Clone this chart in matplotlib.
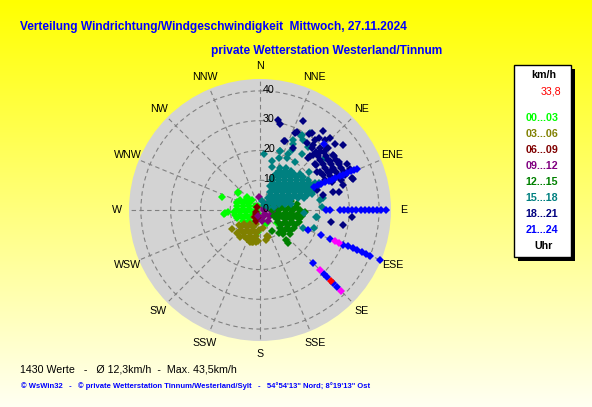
import numpy as np
import matplotlib
matplotlib.use('Agg')
import matplotlib.pyplot as plt
from matplotlib.patches import Rectangle
from matplotlib.colors import LinearSegmentedColormap

plt.rcParams['font.family'] = ['Liberation Sans', 'DejaVu Sans']

# ---------------- data ----------------
compass = ['N', 'NNE', 'NE', 'ENE', 'E', 'ESE', 'SE', 'SSE',
           'S', 'SSW', 'SW', 'WSW', 'W', 'WNW', 'NW', 'NNW']
ring_values = [0, 10, 20, 30, 40]
hour_labels = ['00...03', '03...06', '06...09', '09...12',
               '12...15', '15...18', '18...21', '21...24']
hour_colors = ['#00FF00', '#808000', '#800000', '#800080',
               '#008000', '#008080', '#000080', '#0000FF']

# 00-03
dir_00 = [296.6, 305.5, 321.3, 279.9, 283.2, 290, 308.7, 265.6, 264.3, 261.9, 256, 250.8, 244.8, 234, 212, 225, 209.7,
          289, 308.6, 313.7, 265.6, 267, 289.6, 300, 153, 184.5, 258.7, 263.6, 128.5, 310, 311, 159, 270, 240, 200, 330,
          292.4, 302.5, 286.9, 272.5, 273.4, 275.2, 256, 250.3, 238, 237.1, 225]
spd_00 = [7.5, 5.8, 4.3, 7.8, 5.9, 3.9, 2.1, 8.8, 6.7, 4.7, 2.8, 8.2, 6.3, 4.6, 3.2, 6.6, 5.4,
          13.6, 9.3, 6.2, 11.8, 10.9, 8.3, 4.5, 5.0, 7.3, 8.6, 12.1, 7.2, 9.5, 5.9, 4.8, 1.5, 2.0, 1.5, 1.5,
          6.2, 4.4, 8.1, 7.7, 5.7, 3.7, 6.9, 5.0, 3.2, 6.8, 5.2]
# 03-06
dir_03 = [228.8, 215.5, 196, 223.5, 213, 199.3, 183, 211.6, 201, 188.7, 197.4, 187,
          235.7, 216.9, 191.9, 183, 169, 163, 235, 225, 165.5, 169.8, 194.7, 220, 200,
          217.4, 202.4, 228.2, 203.5, 189.9, 214.8, 204.1, 193.6]
spd_03 = [7.1, 5.8, 4.9, 9.3, 8.0, 7.1, 6.7, 10.2, 9.4, 8.8, 11.2, 10.8,
          11.5, 11.2, 10.9, 10.3, 10.2, 9.6, 8.8, 11.1, 9.0, 6.2, 11.0, 3.0, 2.5,
          7.2, 6.2, 8.6, 8.4, 7.8, 9.4, 10.7, 10.0]
# 06-09
dir_06 = [243, 215, 200, 190, 315, 225]
spd_06 = [1.5, 2.9, 3.9, 2.5, 1.2, 2.0]
# 09-12
dir_09 = [39.8, 61.4, 90, 90, 90, 198.4, 146.3, 121, 110.6, 169.7, 144, 357, 75, 100, 130, 60, 102.5, 80]
spd_09 = [2.6, 4.2, 1.3, 3.4, 5.4, 2.1, 2.4, 3.9, 5.7, 3.8, 4.6, 4.5, 4.8, 4.5, 2.0, 1.5, 6.2, 5.8]
# 12-15
dir_12 = [59, 66, 69.4, 75.4, 78.7, 80.8, 90, 90, 90, 90, 90, 113.2, 105.9, 102.1, 99.7, 98.1,
          123.7, 115.6, 110.6, 107.1, 132, 123.7, 117.9, 136.2, 128.7, 139.1,
          140.4, 92, 73, 150.5, 139.6,
          82.4, 84.2, 85.3, 99.7, 97, 95.4, 94.5, 117.2, 110.2, 105.9, 103.2,
          124.9, 117.8, 112.9, 131.8, 124.5, 69, 73.6]
spd_12 = [7.8, 9.9, 5.7, 8.0, 10.3, 12.6, 4.0, 6.4, 8.7, 11.1, 13.4, 5.1, 7.3, 9.6, 11.9, 14.2,
          7.3, 9.3, 11.5, 13.7, 9.0, 10.9, 12.9, 11.1, 12.9, 13.3,
          10.2, 15.1, 3.5, 8.0, 14.7,
          7.6, 10.0, 12.3, 6.0, 8.3, 10.6, 13.0, 6.6, 8.8, 11.0, 13.3,
          8.8, 10.8, 12.9, 10.6, 12.4, 8.4, 10.7]
# 15-18
dir_15 = [25.5, 31.8, 24, 31.4, 37.9, 43.4, 48, 21.8, 31, 38.7, 45, 50.2, 54.5, 58,
          22.6, 33.7, 42.5, 49.4, 54.8, 59, 62.4, 65.2, 67.5,
          29, 41.6, 50.7, 57.3, 62.1, 65.8, 68.6, 70.9,
          33.7, 49.4, 59, 65.2, 69.4, 72.5, 74.7, 49.4, 65.2, 72.5, 76.5, 79,
          4.4, 18.7, 15.1, 27.8, 26.9, 28.9, 31.4, 27.3, 36.8, 37.3, 25.4, 51.2, 80.5, 97.3,
          112.9, 108.6, 72.8, 93.5, 97.4, 87, 18.6, 29.1, 33.1, 26.9, 35.9, 52.2, 79.5, 65.8,
          15, 40, 14, 20,
          26, 32.7, 38.5, 21.5, 29.9, 37.1, 43.2, 48.3, 52.5,
          25.7, 35.1, 42.8, 48.9, 53.9, 57.9, 61.1, 63.9,
          31.8, 42.1, 50, 55.9, 60.4, 64, 66.8,
          36.3, 48.6, 56.9, 62.6, 66.8, 69.9, 72.3,
          48, 60.6, 67.8, 72.2, 69.4, 77.9]
spd_15 = [15.6, 16.6, 13.2, 14.2, 15.3, 16.6, 18.1, 10.8, 11.7, 12.9, 14.2, 15.7, 17.3, 19.0,
          8.7, 9.7, 10.9, 12.4, 14.0, 15.6, 17.4, 19.2, 21.1,
          6.9, 8.1, 9.5, 11.2, 12.9, 14.7, 16.6, 18.5,
          4.8, 6.2, 7.8, 9.6, 11.5, 13.4, 15.3, 3.1, 4.8, 6.7, 8.6, 10.6,
          18.7, 20.9, 15.1, 22.8, 24.7, 28.5, 27.5, 19.5, 23.3, 26.7, 26.0, 28.0, 20.4, 19.2,
          15.8, 19.2, 18.2, 14.8, 19.0, 20.7, 21.0, 28.8, 30.7, 21.0, 20.0, 20.9, 21.6, 21.8,
          3.0, 2.0, 17.0, 18.5,
          14.6, 15.5, 16.7, 11.9, 12.8, 13.9, 15.2, 16.6, 18.2,
          10.1, 11.1, 12.3, 13.8, 15.4, 17.0, 18.8, 20.6,
          8.3, 9.5, 10.9, 12.6, 14.3, 16.1, 17.9,
          6.2, 7.6, 9.2, 10.9, 12.8, 14.7, 16.5,
          4.5, 6.2, 8.0, 9.9, 2.9, 4.8]
# 18-21
dir_18 = [25.6, 25.1, 33.1, 38.4, 19.2, 28.1, 35, 39, 39.4, 44.1, 48.8, 52, 53.1, 55, 58.7, 65.7,
          70.9, 73.3, 76.4, 77.4, 76.7, 70.6, 61.1, 51.2, 44.1, 45.8, 47.2, 43, 56, 61.3, 67.6,
          68.5, 11.5, 13.1, 19.9, 34, 24.4, 99.9, 100.3, 71.6, 94.5,
          38.2, 42.9, 40, 44, 47.6, 42.8, 47, 50.7, 53.9, 50.1, 53.9, 57, 59.8, 62.1,
          57.7, 60.8, 63.4, 65.7, 65.2, 67.7, 69.7,
          44, 47.8, 50.2, 53.7, 56.7, 57.1, 60.1, 62.6, 64.1, 66.4]
spd_18 = [33.1, 29.0, 30.3, 33.9, 24.5, 23.7, 27.3, 28.1, 31.4, 33.8, 33.5, 35.5, 30.7, 28.7, 31.2, 33.1,
          32.6, 29.2, 25.3, 27.3, 21.8, 20.2, 24.3, 24.1, 25.7, 28.1, 30.5, 23.7, 23.0, 26.8, 30.8,
          25.9, 30.8, 29.5, 24.6, 31.0, 28.5, 24.1, 28.2, 33.0, 31.1,
          29.9, 32.1, 27.1, 29.0, 30.9, 24.7, 26.6, 28.6, 30.7, 24.1, 26.2, 28.4, 30.7, 33.0,
          23.8, 26.1, 28.5, 30.9, 24.0, 26.5, 29.0,
          27.0, 29.0, 26.2, 28.3, 30.5, 26.0, 28.3, 30.6, 26.1, 28.6]
# 21-24
dir_21 = [90] * 14 + [112.5] * 11 + [135] * 5 + [67] * 13 + [44.4]
spd_21 = [22.0, 23.5, 26.8, 28.2, 29.6, 31.0, 32.4, 33.8, 35.2, 36.7, 38.0, 39.4, 40.8, 42.2,
          17.4, 22.2, 25.3, 30.3, 31.9, 33.7, 35.3, 37.0, 38.6, 40.0, 43.5,
          25.2, 30.4, 31.7, 34.8, 36.7,
          19.6, 21.1, 22.3, 23.8, 25.0, 26.2, 27.4, 29.1, 30.4, 31.7, 33.1, 34.3, 35.5,
          30.8]
# highlighted values
dir_mag = [112.5, 112.5, 135, 135]
spd_mag = [27.2, 28.7, 28.5, 38.6]
dir_last = [135]
spd_last = [33.8]

hour_dirs = [dir_00, dir_03, dir_06, dir_09, dir_12, dir_15, dir_18, dir_21]
hour_spds = [spd_00, spd_03, spd_06, spd_09, spd_12, spd_15, spd_18, spd_21]

W, H = 592, 407


def px(x, y):
    return x / W, 1 - y / H


fig = plt.figure(figsize=(W / 100, H / 100), dpi=100)

# background gradient
bg = fig.add_axes([0, 0, 1, 1])
bg.axis('off')
cmap = LinearSegmentedColormap.from_list('bg', ['#FFFF00', '#FFFFF2'])
bg.imshow(np.linspace(0, 1, 256)[:, None], aspect='auto', cmap=cmap,
          extent=[0, 1, 0, 1], origin='upper')
bg.set_xlim(0, 1)
bg.set_ylim(0, 1)

# polar plot
cx, cy, R = 260, 210, 131
ax = fig.add_axes([(cx - R) / W, (H - cy - R) / H, 2 * R / W, 2 * R / H], projection='polar')
ax.set_theta_zero_location('N')
ax.set_theta_direction(-1)
ax.set_ylim(0, 44)
ax.set_facecolor('#D3D3D3')
ax.spines['polar'].set_visible(False)
ax.set_xticks(np.deg2rad(np.arange(0, 360, 22.5)))
ax.set_xticklabels([])
ax.set_yticks([10, 20, 30, 40])
ax.set_yticklabels([])
ax.grid(True, color='#808080', linestyle=(0, (4, 3)), linewidth=0.8)
ax.tick_params(length=0)

for lab, th in zip(compass, np.arange(0, 360, 22.5)):
    ax.text(np.deg2rad(th), 48.2, lab, ha='center', va='center', fontsize=7.7,
            color='black', clip_on=False)

for d, s, c in zip(hour_dirs, hour_spds, hour_colors):
    ax.plot(np.deg2rad(d), s, linestyle='none', marker='D', ms=3.8, mew=0,
            color=c, zorder=3, clip_on=False)
ax.plot(np.deg2rad(dir_mag), spd_mag, linestyle='none', marker='D', ms=3.8, mew=0,
        color='#FF00FF', zorder=4)
ax.plot(np.deg2rad(dir_last), spd_last, linestyle='none', marker='D', ms=3.8, mew=0,
        color='#FF0000', zorder=5)

for v in ring_values:
    ax.annotate(str(v), xy=(0, v), xytext=(2.2, 1), textcoords='offset points',
                ha='left', va='center', fontsize=7.7, color='black', zorder=10)

# titles
fig.text(*px(20, 30), 'Verteilung Windrichtung/Windgeschwindigkeit  Mittwoch, 27.11.2024',
         color='#0000FF', fontsize=8.6, fontweight='bold', va='baseline', ha='left')
fig.text(*px(211, 54), 'private Wetterstation Westerland/Tinnum',
         color='#0000FF', fontsize=8.6, fontweight='bold', va='baseline', ha='left')

# legend box
fig.add_artist(Rectangle(px(518, 261), 57 / W, 192 / H, transform=fig.transFigure,
                         facecolor='black', edgecolor='none'))
fig.add_artist(Rectangle(px(514, 257), 57 / W, 192 / H, transform=fig.transFigure,
                         facecolor='white', edgecolor='black', linewidth=1))
fig.text(*px(544, 75), 'km/h', fontsize=7.7, fontweight='bold', color='black',
         ha='center', va='center')
fig.text(*px(561, 92), '33,8', fontsize=7.7, color='#FF0000', ha='right', va='center')
ys = [118, 134, 150, 166, 182, 198, 214, 230]
for lab, c, y in zip(hour_labels, hour_colors, ys):
    fig.text(*px(542, y), lab, fontsize=7.7, fontweight='bold', color=c,
             ha='center', va='center')
fig.text(*px(544, 246), 'Uhr', fontsize=7.7, fontweight='bold', color='black',
         ha='center', va='center')

# bottom texts
fig.text(*px(20, 372), '1430 Werte   -   Ø 12,3km/h  -  Max. 43,5km/h',
         fontsize=7.7, color='black', va='baseline', ha='left')
fig.text(*px(21, 388),
         '\u00a9 WsWin32   -   \u00a9 private Wetterstation Tinnum/Westerland/Sylt   -   '
         '54\u00b054\'13" Nord; 8\u00b019\'13" Ost',
         fontsize=5.5, fontweight='bold', color='#0000FF', va='baseline', ha='left')

fig.savefig('out.png', dpi=100)
